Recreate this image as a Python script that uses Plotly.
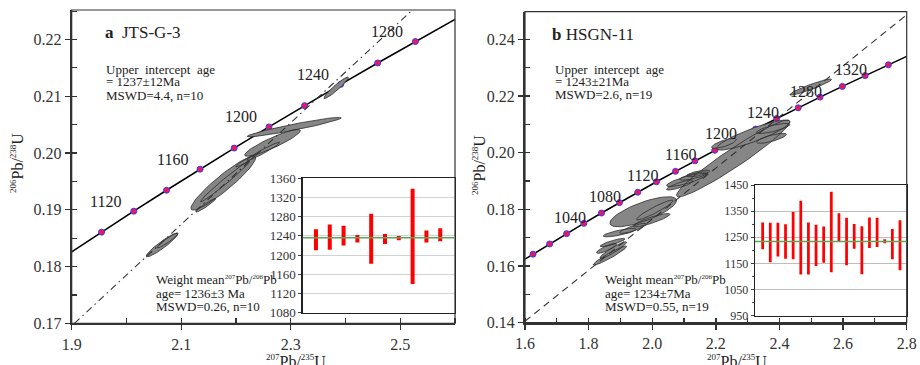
import numpy as np
import plotly.graph_objects as go

W, H = 920, 365
FONT = "Times New Roman, Liberation Serif, Times, serif"

# ---------------- data: panel a (JTS-G-3) ----------------
conc_a_age = [1100, 1120, 1140, 1160, 1180, 1200, 1220, 1240, 1260, 1280]
conc_a_x = [1.9545, 2.0133, 2.0732, 2.1344, 2.1967, 2.2603, 2.3252, 2.3913, 2.4588, 2.5276]
conc_a_y = [0.18606, 0.18975, 0.19344, 0.19715, 0.20087, 0.20460, 0.20835, 0.21210, 0.21587, 0.21965]
conc_a_line_x = [1.90] + conc_a_x + [2.60]
conc_a_line_y = [0.18259] + conc_a_y + [0.22355]
conc_a_labels = [1120, 1160, 1200, 1240, 1280]
disc_a_x = [1.905, 2.520]
disc_a_y = [0.1700, 0.2250]

ell_a_cx = [2.065, 2.075, 2.1767, 2.145, 2.2177, 2.180, 2.2667, 2.250, 2.3064, 2.383]
ell_a_cy = [0.1838, 0.1846, 0.1947, 0.1908, 0.1986, 0.1950, 0.2018, 0.2003, 0.20457, 0.2115]
ell_a_sx = [0.029, 0.019, 0.0591, 0.018, 0.018, 0.045, 0.0509, 0.030, 0.0858, 0.0225]
ell_a_sy = [0.0021, 0.0013, 0.00476, 0.0012, 0.00103, 0.0036, 0.00236, 0.0016, 0.00171, 0.0019]
ell_a_rho = [0.94, 0.944, 0.932, 0.96, 0.95, 0.987, 0.91, 0.968, 0.949, 0.95]

bar_a_lo = [1210, 1211, 1220, 1226, 1182, 1223, 1231, 1140, 1226, 1229]
bar_a_hi = [1254, 1264, 1261, 1242, 1286, 1244, 1240, 1338, 1251, 1256]
mean_a = 1236

# ---------------- data: panel b (HSGN-11) ----------------
conc_b_age = [980, 1000, 1020, 1040, 1060, 1080, 1100, 1120, 1140, 1160,
              1180, 1200, 1220, 1240, 1260, 1280, 1300, 1320, 1340]
conc_b_x = [1.6252, 1.6774, 1.7307, 1.7850, 1.8404, 1.8969, 1.9545, 2.0133, 2.0732, 2.1344,
            2.1967, 2.2603, 2.3252, 2.3913, 2.4588, 2.5276, 2.5977, 2.6693, 2.7423]
conc_b_y = [0.16419, 0.16780, 0.17143, 0.17507, 0.17872, 0.18239, 0.18606, 0.18975, 0.19344, 0.19715,
            0.20087, 0.20460, 0.20835, 0.21210, 0.21587, 0.21965, 0.22343, 0.22724, 0.23105]
conc_b_line_x = [1.60] + conc_b_x + [2.80]
conc_b_line_y = [0.16243] + conc_b_y + [0.23403]
conc_b_labels = [1040, 1080, 1120, 1160, 1200, 1240, 1280, 1320]
disc_b_x = [1.60, 2.80]
disc_b_y = [0.1405, 0.2487]

ell_b_cx = [1.867, 1.8775, 1.875, 1.898, 1.9717, 1.9978, 2.108, 2.131, 2.2545, 2.3173,
            2.380, 2.498, 2.2257, 1.940, 2.008, 2.087, 2.375, 1.8565, 2.1445]
ell_b_cy = [0.1637, 0.16565, 0.1683, 0.1718, 0.17918, 0.1762, 0.1904, 0.1918, 0.1980, 0.20624,
            0.20858, 0.2232, 0.2033, 0.1733, 0.1798, 0.1886, 0.2051, 0.16625, 0.1927]
ell_b_sx = [0.0524, 0.0419, 0.039, 0.0524, 0.1047, 0.0578, 0.0628, 0.0445, 0.178, 0.1152,
            0.0524, 0.0655, 0.039, 0.042, 0.0576, 0.042, 0.047, 0.0315, 0.0365]
ell_b_sy = [0.00336, 0.00294, 0.00147, 0.00148, 0.0053, 0.00235, 0.00235, 0.00147, 0.01353, 0.0053,
            0.00178, 0.00283, 0.00176, 0.00176, 0.0035, 0.00176, 0.00176, 0.00176, 0.00118]
ell_b_rho = [0.953, 0.934, 0.866, 0.79, 0.75, 0.879, 0.835, 0.78, 0.959, 0.884,
             0.78, 0.942, 0.76, 0.85, 0.94, 0.85, 0.77, 0.85, 0.70]

bar_b_lo = [1204, 1154, 1176, 1168, 1166, 1108, 1108, 1140, 1153, 1116,
            1234, 1143, 1206, 1109, 1209, 1213, 1227, 1166, 1124]
bar_b_hi = [1307, 1306, 1306, 1300, 1347, 1390, 1307, 1298, 1291, 1424,
            1342, 1325, 1301, 1292, 1326, 1325, 1242, 1282, 1315]
mean_b = 1234

# ---------------- helpers ----------------
def pxx(x):
    return x / W

def pyy(y):
    return 1 - y / H

def sup(s, size=8):
    return f'<sup><span style="font-size:{size}px">{s}</span></sup>'

def ellipse_path(cx, cy, sx, sy, rho):
    t = np.linspace(0, 2 * np.pi, 73)
    xs, ys = [], []
    for a, b, c, d, r in zip(cx, cy, sx, sy, rho):
        ex = a + c * np.cos(t)
        ey = b + d * (r * np.cos(t) + np.sqrt(1 - r * r) * np.sin(t))
        xs += list(ex) + [None]
        ys += list(ey) + [None]
    return xs, ys

fig = go.Figure()

ELL_FILL = "rgb(134,134,134)"
ELL_LINE = "rgb(45,45,45)"
MK = dict(size=6, color="#e8185a", line=dict(color="#3b3bff", width=1))

def add_panel(xa, ya, lx, ly, cx_, cy_, ecx, ecy, esx, esy, erho, dx, dy, dash):
    fig.add_trace(go.Scatter(x=lx, y=ly, mode="lines", line=dict(color="black", width=1.6),
                             xaxis=xa, yaxis=ya, hoverinfo="skip"))
    fig.add_trace(go.Scatter(x=cx_, y=cy_, mode="markers", marker=MK,
                             xaxis=xa, yaxis=ya, hoverinfo="skip"))
    ex, ey = ellipse_path(ecx, ecy, esx, esy, erho)
    fig.add_trace(go.Scatter(x=ex, y=ey, mode="lines", fill="toself", fillcolor=ELL_FILL,
                             line=dict(width=0, color=ELL_FILL), xaxis=xa, yaxis=ya, hoverinfo="skip"))
    fig.add_trace(go.Scatter(x=ex, y=ey, mode="lines", line=dict(width=0.8, color=ELL_LINE),
                             xaxis=xa, yaxis=ya, hoverinfo="skip"))
    fig.add_trace(go.Scatter(x=dx, y=dy, mode="lines", line=dict(color="#333", width=1.1, dash=dash),
                             xaxis=xa, yaxis=ya, hoverinfo="skip"))

add_panel("x", "y", conc_a_line_x, conc_a_line_y, conc_a_x, conc_a_y,
          ell_a_cx, ell_a_cy, ell_a_sx, ell_a_sy, ell_a_rho, disc_a_x, disc_a_y,
          "7px,4px,1.5px,4px")
add_panel("x2", "y2", conc_b_line_x, conc_b_line_y, conc_b_x, conc_b_y,
          ell_b_cx, ell_b_cy, ell_b_sx, ell_b_sy, ell_b_rho, disc_b_x, disc_b_y,
          "7px,5px")

# inset bars
fig.add_trace(go.Bar(x=list(range(1, len(bar_a_lo) + 1)),
                     y=[h - l for h, l in zip(bar_a_hi, bar_a_lo)], base=bar_a_lo,
                     width=0.29, marker=dict(color="#ff0000", line=dict(width=0)),
                     xaxis="x3", yaxis="y3", hoverinfo="skip"))
fig.add_trace(go.Bar(x=list(range(1, len(bar_b_lo) + 1)),
                     y=[h - l for h, l in zip(bar_b_hi, bar_b_lo)], base=bar_b_lo,
                     width=0.36, marker=dict(color="#ff0000", line=dict(width=0)),
                     xaxis="x4", yaxis="y4", hoverinfo="skip"))

# empty traces for overlay tick axes
fig.add_trace(go.Scatter(x=[None], y=[None], xaxis="x5", yaxis="y5", mode="markers"))
fig.add_trace(go.Scatter(x=[None], y=[None], xaxis="x6", yaxis="y6", mode="markers"))

TICKF = dict(family=FONT, size=16, color="#333")
AX = dict(showgrid=False, zeroline=False, showline=True, linecolor="#333", linewidth=2,
          ticks="outside", ticklen=5, tickwidth=1.4, tickcolor="#333", tickfont=TICKF)

dom_a_x = [pxx(71.7), pxx(455)]
dom_a_y = [pyy(323.3), pyy(10)]
dom_b_x = [pxx(525), pxx(906.7)]
dom_b_y = [pyy(322.7), pyy(11.7)]

xa_ticks = [1.9, 2.1, 2.3, 2.5]
ya_ticks = [0.17, 0.18, 0.19, 0.20, 0.21, 0.22]
xb_ticks = [1.6, 1.8, 2.0, 2.2, 2.4, 2.6, 2.8]
yb_ticks = [0.14, 0.16, 0.18, 0.20, 0.22, 0.24]

MINOR = dict(ticks="inside", ticklen=5, tickwidth=1.2, tickcolor="#333")
OVL = dict(ticks="inside", ticklen=5, tickwidth=1.4, tickcolor="#333", showticklabels=False,
           showgrid=False, zeroline=False, showline=False)

fig.update_layout(
    width=W, height=H, autosize=False, margin=dict(l=0, r=0, t=0, b=0, pad=0, autoexpand=False),
    paper_bgcolor="white", plot_bgcolor="white", showlegend=False,
    font=dict(family=FONT, color="#222"), barmode="overlay",
    xaxis=dict(AX, domain=dom_a_x, anchor="y", range=[1.9, 2.6], tickvals=xa_ticks,
               ticktext=[f"{v:.1f}" for v in xa_ticks], minor=dict(MINOR, dtick=0.1, tick0=1.9)),
    yaxis=dict(AX, domain=dom_a_y, anchor="x", range=[0.17, 0.2252], tickvals=ya_ticks,
               ticktext=[f"{v:.2f}" for v in ya_ticks], minor=dict(MINOR, dtick=0.005, tick0=0.17)),
    xaxis2=dict(AX, domain=dom_b_x, anchor="y2", range=[1.6, 2.8], tickvals=xb_ticks,
                ticktext=[f"{v:.1f}" for v in xb_ticks], minor=dict(MINOR, dtick=0.1, tick0=1.6)),
    yaxis2=dict(AX, domain=dom_b_y, anchor="x2", range=[0.14, 0.2498], tickvals=yb_ticks,
                ticktext=[f"{v:.2f}" for v in yb_ticks], minor=dict(MINOR, dtick=0.01, tick0=0.14)),
    xaxis5=dict(OVL, overlaying="x", anchor="y", range=[1.9, 2.6], tickvals=xa_ticks),
    yaxis5=dict(OVL, overlaying="y", anchor="x", range=[0.17, 0.2252], tickvals=ya_ticks),
    xaxis6=dict(OVL, overlaying="x2", anchor="y2", range=[1.6, 2.8], tickvals=xb_ticks),
    yaxis6=dict(OVL, overlaying="y2", anchor="x2", range=[0.14, 0.2498], tickvals=yb_ticks),
    xaxis3=dict(domain=[pxx(302.7), pxx(455)], anchor="y3", range=[0.04, 11.07],
                showticklabels=False, ticks="", showgrid=False, zeroline=False,
                showline=True, mirror=True, linecolor="#222", linewidth=1.3),
    yaxis3=dict(domain=[pyy(312.7), pyy(178.3)], anchor="x3", range=[1080, 1360],
                tickvals=list(range(1080, 1361, 40)), showgrid=True, gridcolor="#d2d2d2", gridwidth=1,
                zeroline=False, showline=True, mirror=True, linecolor="#222", linewidth=1.3,
                ticks="outside", ticklen=3, tickcolor="#444",
                tickfont=dict(family=FONT, size=13, color="#333")),
    xaxis4=dict(domain=[pxx(755), pxx(906.7)], anchor="y4", range=[0.0, 19.88],
                showticklabels=False, ticks="", showgrid=False, zeroline=False,
                showline=True, mirror=True, linecolor="#222", linewidth=1.3),
    yaxis4=dict(domain=[pyy(315.7), pyy(185)], anchor="x4", range=[950, 1450],
                tickvals=list(range(950, 1451, 100)), showgrid=True, gridcolor="#bdbdbd", gridwidth=1,
                zeroline=False, showline=True, mirror=True, linecolor="#222", linewidth=1.3,
                ticks="outside", ticklen=3, tickcolor="#444",
                minor=dict(ticks="outside", ticklen=2, dtick=50, tick0=950, tickcolor="#444"),
                tickfont=dict(family=FONT, size=12, color="#333")),
)

shapes = []
for xr, yr in (("x", "y"), ("x2", "y2")):
    shapes.append(dict(type="rect", xref=f"{xr} domain", yref=f"{yr} domain", x0=0, x1=1, y0=0, y1=1,
                       line=dict(color="#333", width=1.2)))
shapes.append(dict(type="line", xref="x3 domain", yref="y3", x0=0, x1=1, y0=mean_a, y1=mean_a,
                   line=dict(color="#5aa55a", width=1.6)))
shapes.append(dict(type="line", xref="x4 domain", yref="y4", x0=0, x1=1, y0=mean_b, y1=mean_b,
                   line=dict(color="#5aa55a", width=1.6)))
fig.update_layout(shapes=shapes)

ann = []

def txt(x, y, s, size=13, anchor="left"):
    ann.append(dict(x=pxx(x), y=pyy(y), xref="paper", yref="paper", text=s, showarrow=False,
                    xanchor=anchor, yanchor="middle", font=dict(family=FONT, size=size, color="#222")))

# concordia age labels
for ages, xs, ys, labs, xr, yr, dxs, dys in (
        (conc_a_age, conc_a_x, conc_a_y, conc_a_labels, "x", "y", -28, 10),
        (conc_b_age, conc_b_x, conc_b_y, conc_b_labels, "x2", "y2", -14, 6)):
    for a, xv, yv in zip(ages, xs, ys):
        if a in labs:
            ann.append(dict(x=xv, y=yv, xref=xr, yref=yr, text=str(a), showarrow=False,
                            xanchor="center", yanchor="middle", xshift=dxs, yshift=dys,
                            font=dict(family=FONT, size=16, color="#222")))

wm = "Weight mean" + sup("207", 7) + "Pb/" + sup("206", 7) + "Pb"
# panel a texts
txt(103, 33, "<b>a</b>&nbsp;&nbsp;JTS-G-3", size=17)
txt(104, 69, "Upper  intercept  age")
txt(104, 82, "= 1237±12Ma")
txt(104, 95.5, "MSWD=4.4, n=10")
txt(154, 279.5, wm)
txt(154, 293.5, "age= 1236±3 Ma")
txt(154, 306.5, "MSWD=0.26, n=10")
# panel b texts
txt(550, 34, "<b>b</b> HSGN-11", size=17)
txt(552.5, 69, "Upper  intercept  age")
txt(552.5, 81.5, "= 1243±21Ma")
txt(552.5, 95, "MSWD=2.6, n=19")
txt(603, 279.5, wm)
txt(603, 293.5, "age= 1234±7Ma")
txt(603, 306.5, "MSWD=0.55, n=19")

# axis titles
xt = sup("207", 9) + "Pb/" + sup("235", 9) + "U"
yt = sup("206", 9) + "Pb/" + sup("238", 9) + "U"
for xc in (296, 737):
    txt(xc, 361, xt, size=16, anchor="center")
for xc, yc in ((17, 163), (479, 165)):
    ann.append(dict(x=pxx(xc), y=pyy(yc), xref="paper", yref="paper",
                    text=yt, showarrow=False, textangle=-90,
                    xanchor="center", yanchor="middle", font=dict(family=FONT, size=16, color="#222")))

fig.update_layout(annotations=ann)
fig.write_html("out.html", config={"responsive": False, "displayModeBar": False, "staticPlot": True},
               post_script="document.body.style.margin='0px';document.body.style.padding='0px';"
                           "document.documentElement.style.overflow='hidden';")
